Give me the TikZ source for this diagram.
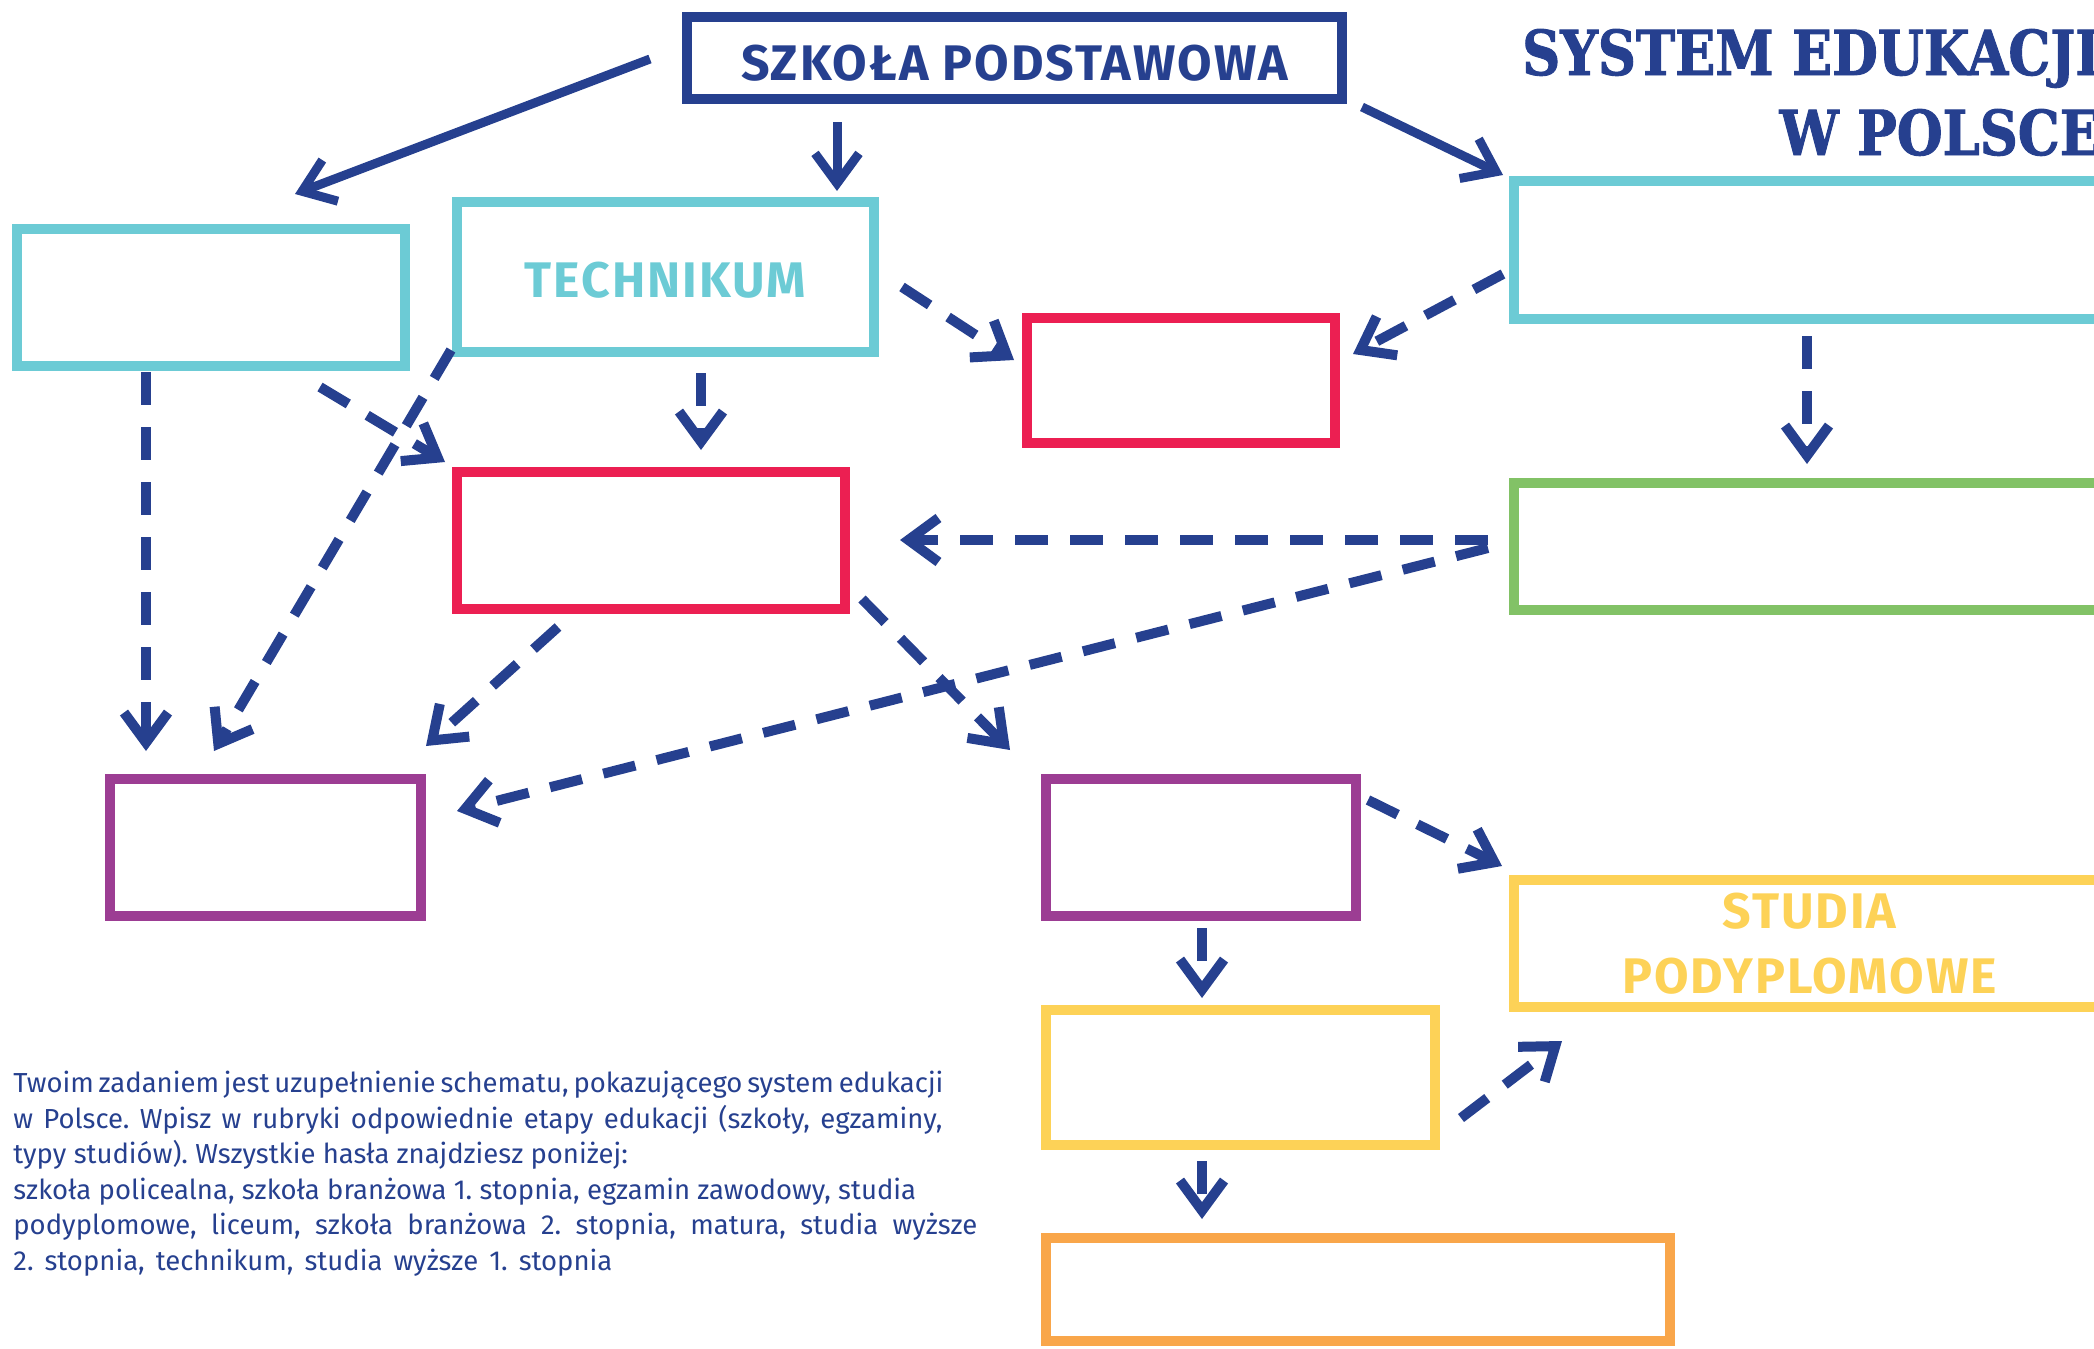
\documentclass[tikz,border=0pt]{standalone}
\usepackage{fontspec}
\usetikzlibrary{arrows.meta,calc}
\setmainfont{Fira Sans}
\newfontfamily\titlefont[FakeStretch=0.85,FakeBold=1.5]{DejaVu Serif}
\newfontfamily\boxfont[LetterSpace=4]{Fira Sans}
\definecolor{navy}{RGB}{38,64,143}
\definecolor{tealb}{RGB}{108,203,213}
\definecolor{redb}{RGB}{236,31,82}
\definecolor{greenb}{RGB}{130,194,102}
\definecolor{purpleb}{RGB}{156,61,147}
\definecolor{yellowb}{RGB}{253,210,87}
\definecolor{orangeb}{RGB}{249,166,74}
\frenchspacing

\begin{document}
\begin{tikzpicture}[x=0.5pt,y=-0.5pt,
    box/.style={draw=#1, line width=5.25pt, inner sep=0pt, outer sep=0pt},
    lbl/.style={font=\boxfont\fontsize{25pt}{32.5pt}\selectfont\bfseries, text=#1, align=center},
    solidarr/.style={draw=navy, line width=4.5pt, -{Straight Barb[length=15pt,width=22pt]}},
    dasharr/.style={solidarr, line width=5pt, dash pattern=on 16.5pt off 11pt}]
        \useasboundingbox (0,0) rectangle (2094,1349);

        % title
        \node[anchor=base east, text=navy, font=\titlefont\fontsize{31pt}{40pt}\selectfont\bfseries] (title1) at (2107,75) {SYSTEM EDUKACJI};
        \node[anchor=base east, text=navy, font=\titlefont\fontsize{31pt}{40pt}\selectfont\bfseries] (title2) at (2107,155) {W POLSCE};

        % boxes
        \node[box=navy, minimum width=327.5pt, minimum height=41pt, lbl=navy, text height=22.7pt, text depth=0pt] (sp) at (1014.5,58) {SZKOŁA PODSTAWOWA};
        \node[box=tealb, minimum width=194pt, minimum height=68.5pt] (lc) at (211,297.5) {};
        \node[box=tealb, minimum width=208.5pt, minimum height=75pt, lbl=tealb, text height=20pt, text depth=0pt] (tech) at (665.5,277) {TECHNIKUM};
        \node[box=redb, minimum width=154pt, minimum height=62.5pt] (rt) at (1181,380.5) {};
        \node[box=tealb, minimum width=295.5pt, minimum height=69pt] (rc) at (1809.5,250) {};
        \node[box=greenb, minimum width=295.5pt, minimum height=63.5pt] (gr) at (1809.5,546.5) {};
        \node[box=redb, minimum width=194pt, minimum height=68.5pt] (rm) at (651,540.5) {};
        \node[box=purpleb, minimum width=155.5pt, minimum height=68.5pt] (pl) at (265.5,847.5) {};
        \node[box=purpleb, minimum width=155pt, minimum height=68.5pt] (pm) at (1201,847.5) {};
        \node[box=yellowb, minimum width=295.5pt, minimum height=63.5pt, lbl=yellowb] (stp) at (1809.5,943.5) {STUDIA\\PODYPLOMOWE};
        \node[box=yellowb, minimum width=194.5pt, minimum height=67.5pt] (yb) at (1240.5,1077.5) {};
        \node[box=orangeb, minimum width=312pt, minimum height=51.5pt] (ob) at (1358,1289.5) {};

        % arrows
        \draw[solidarr] ($(sp.west)+(-37,1)$) -- ($(lc.north)+(84,-35)$);
        \draw[solidarr] ($(sp.south)+(-177.5,23)$) -- ($(tech.north)+(171.5,-11)$);
        \draw[solidarr] ($(sp.south east)+(20,8)$) -- ($(rc.north west)+(-11,-6)$);
        \draw[dasharr] ($(lc.south)+(-65,6)$) -- ($(pl.north)+(-119.5,-28)$);
        \draw[dasharr] ($(lc.south)+(109,21)$) -- ($(rm.north west)+(-12,-10)$);
        \draw[dasharr] ($(tech.south west)+(-6,-2)$) -- ($(pl.north)+(-51.5,-28)$);
        \draw[dasharr] ($(tech.south)+(35.5,21)$) -- ($(rm.north)+(50,-22)$);
        \draw[dasharr] ($(tech.east)+(28,10)$) -- ($(rt.west)+(-13,-20.5)$);
        \draw[dasharr] ($(rc.west)+(-11,24)$) -- ($(rt.east)+(18,-26.5)$);
        \draw[dasharr] ($(rc.south)+(-2.5,17)$) -- ($(gr.north)+(-2.5,-19)$);
        \draw[dasharr] ($(gr.west)+(-26,-6.5)$) -- ($(rm.east)+(55,-0.5)$);
        \draw[dasharr] ($(gr.west)+(-26,1.5)$) -- ($(pl.east)+(36,-36.5)$);
        \draw[dasharr] ($(rm.south)+(-93,18)$) -- ($(pl.north east)+(5,-33)$);
        \draw[dasharr] ($(rm.south east)+(17,-10)$) -- ($(pm.north west)+(-36,-29)$);
        \draw[dasharr] ($(pm.north east)+(12,21)$) -- ($(stp.north west)+(-12,-14)$);
        \draw[dasharr] ($(pm.south)+(1,12)$) -- ($(yb.north)+(-38.5,-12)$);
        \draw[dasharr] ($(yb.east)+(26,40.5)$) -- ($(stp.south west)+(48,34)$);
        \draw[dasharr] ($(yb.south)+(-38.5,16)$) -- ($(ob.north)+(-156,-19)$);

        % task text
        \node[anchor=north west, inner sep=0pt, align=left, text=navy,
              font=\fontsize{13.75pt}{17.75pt}\selectfont] (task) at (13,1071)
            {\makebox[464.5pt][s]{Twoim zadaniem jest uzupełnienie schematu, pokazującego system edukacji}\\
             \makebox[464.5pt][s]{w Polsce. Wpisz w rubryki odpowiednie etapy edukacji (szkoły, egzaminy,}\\
             typy studiów). Wszystkie hasła znajdziesz poniżej:\\
             szkoła policealna, szkoła branżowa 1. stopnia, egzamin zawodowy, studia\\
             \makebox[482pt][s]{podyplomowe, liceum, szkoła branżowa 2. stopnia, matura, studia wyższe}\\
             \makebox[299.5pt][s]{2. stopnia, technikum, studia wyższe 1. stopnia}};
\end{tikzpicture}
\end{document}
